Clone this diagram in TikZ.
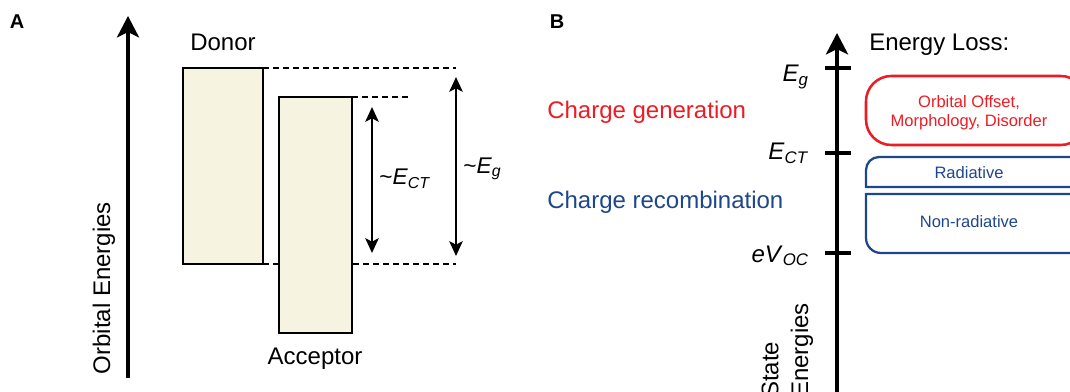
\documentclass[tikz,border=0pt]{standalone}
\usepackage{fontspec}
\setmainfont{Liberation Sans}
\usetikzlibrary{arrows.meta}
\definecolor{beige}{RGB}{246,243,224}
\definecolor{lossred}{RGB}{236,28,36}
\definecolor{lossblue}{RGB}{30,70,140}
\begin{document}
\begin{tikzpicture}[x=0.75pt,y=-0.75pt,
  lbl/.style={inner sep=0pt, font=\fontsize{18}{21}\selectfont},
  mlbl/.style={inner sep=0pt, font=\fontsize{17}{20}\selectfont},
  small/.style={inner sep=0pt, font=\fontsize{12.4}{14.4}\selectfont},
  panel/.style={inner sep=0pt, font=\fontsize{15}{17}\selectfont\bfseries},
  axisline/.style={line width=2.8pt, -{Stealth[length=16pt,width=16.5pt,inset=4pt]}},
  tick/.style={line width=3pt},
  dimarrow/.style={line width=1.7pt, {Stealth[length=11pt,width=10pt,inset=2.5pt]}-{Stealth[length=11pt,width=10pt,inset=2.5pt]}},
  dashline/.style={line width=1.6pt, dash pattern=on 4.5pt off 3pt},
  bandbox/.style={draw=black, fill=beige, line width=1.7pt, inner sep=0pt, outer sep=0pt},
  redbox/.style={draw=lossred, line width=1.9pt},
  bluebox/.style={draw=lossblue, line width=1.7pt}
]
\path[use as bounding box] (0,0) rectangle (1070,392);
\clip (0,0) rectangle (1070,392);

% ---------------- Panel A ----------------
\node[panel] (labA) at (17,22) {A};
\coordinate (axAbot) at (128,378);
\coordinate (axAtop) at (128,16);
\draw[axisline] (axAbot) -- (axAtop);
\node[lbl, rotate=90] (orbE) at (104,288) {Orbital Energies};

% dashed guide lines (drawn first, boxes cover them)
\coordinate (dTopR) at (456,68);
\coordinate (dAccR) at (410,97);
\coordinate (dBotL) at (263,264);
\coordinate (dBotR) at (456,264);
\draw[dashline] (263,68) -- (dTopR);
\draw[dashline] (dBotL) -- (dBotR);

\node[bandbox, minimum width=60pt, minimum height=147pt] (donor) at (223,166) {};
\node[bandbox, minimum width=54.75pt, minimum height=177pt] (acceptor) at (315.5,215) {};
\draw[dashline] (acceptor.north east) -- (dAccR);

\node[lbl, anchor=base] (donorlbl) at (223,51) {Donor};
\node[lbl, anchor=base] (acclbl) at (315,364) {Acceptor};

\coordinate (ctT) at (372,107);
\coordinate (ctB) at (372,253);
\draw[dimarrow] (ctT) -- (ctB);
\coordinate (egT) at (456,77);
\coordinate (egB) at (456,256);
\draw[dimarrow] (egT) -- (egB);

\node[mlbl, anchor=base west] (ectA) at (379,185) {\textasciitilde\textit{E}\textsubscript{\textit{CT}}};
\node[mlbl, anchor=base west] (egA) at (463,173) {\textasciitilde\textit{E}\textsubscript{\textit{g}}};

% ---------------- Panel B ----------------
\node[panel] (labB) at (557,22) {B};
\coordinate (axBbot) at (837,400);
\coordinate (axBtop) at (837,33);
\draw[axisline, line width=3pt] (axBbot) -- (axBtop);
\foreach \yy/\nm in {68/tg,153/tct,253/tvoc,393.5/tlow}{
  \coordinate (\nm L) at (825,\yy);
  \coordinate (\nm R) at (851,\yy);
  \draw[tick] (\nm L) -- (\nm R);
}
\node[lbl, anchor=base east] (egB) at (809,82) {\textit{E}\textsubscript{\textit{g}}};
\node[lbl, anchor=base east] (ectB) at (809,160) {\textit{E}\textsubscript{\textit{CT}}};
\node[lbl, anchor=base east] (voc) at (809,262) {\textit{eV}\textsubscript{\textit{OC}}};

\node[lbl, anchor=base west, text=lossred] (cgen) at (547,119) {Charge generation};
\node[lbl, anchor=base west, text=lossblue] (crec) at (547,209) {Charge recombination};
\node[lbl, anchor=base west] (eloss) at (869,51) {Energy Loss:};

\node[rotate=90, anchor=west, lbl] (state) at (770,398) {State};
\node[rotate=90, anchor=west, lbl] (energies) at (802,398) {Energies};

% loss boxes
\draw[redbox, rounded corners=19] (866,76) rectangle (1086,145);
\node[small, align=center, text=lossred] (orb) at (969,113) {Orbital Offset,\\Morphology, Disorder};

\draw[bluebox] (1086,187) -- (866,187) -- (866,170) arc[start angle=180, end angle=270, radius=13] -- (1073,157) arc[start angle=270, end angle=360, radius=13] -- cycle;
\node[small, anchor=base, text=lossblue] (rad) at (969,179) {Radiative};

\draw[bluebox] (1086,194) -- (866,194) -- (866,238) arc[start angle=180, end angle=90, radius=15] -- (1071,253) arc[start angle=90, end angle=0, radius=15] -- cycle;
\node[small, anchor=base, text=lossblue] (nrad) at (969,227) {Non-radiative};
\end{tikzpicture}
\end{document}
